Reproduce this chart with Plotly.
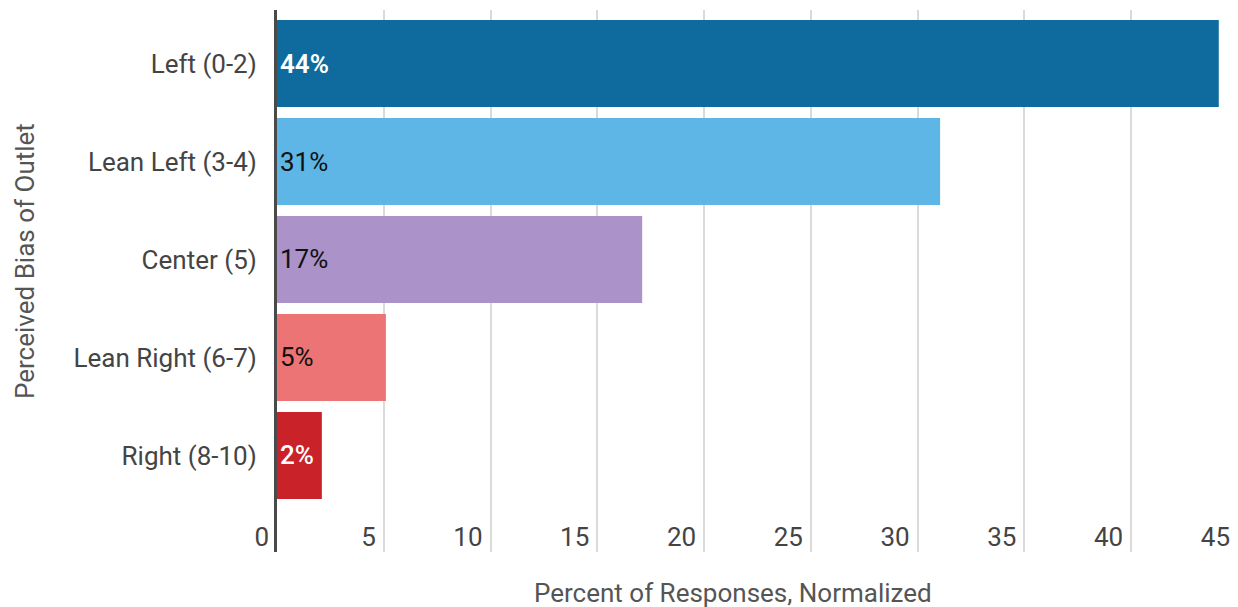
import plotly.graph_objects as go

categories = ["Left (0-2)", "Lean Left (3-4)", "Center (5)", "Lean Right (6-7)", "Right (8-10)"]
values = [44.1, 31.05, 17.1, 5.1, 2.1]
labels = ["44%", "31%", "17%", "5%", "2%"]
colors = ["#0F6B9E", "#5DB6E5", "#AB92C8", "#EC7474", "#C92228"]
text_colors = ["#FFFFFF", "#111111", "#111111", "#111111", "#FFFFFF"]
text_weights = [600, 400, 400, 400, 500]
x_ticks = [0, 5, 10, 15, 20, 25, 30, 35, 40, 45]

fig = go.Figure(go.Bar(
    x=values, y=categories, orientation="h",
    marker=dict(color=colors, line=dict(width=0)),
    text=labels, textposition="inside", insidetextanchor="start",
    textfont=dict(family="Roboto", size=26, color=text_colors, weight=text_weights),
    textangle=0,
))

fig.update_layout(
    width=1238, height=607,
    margin=dict(l=277, r=0, t=10, b=55),
    plot_bgcolor="white", paper_bgcolor="white",
    bargap=0.112,
    showlegend=False,
    font=dict(family="Roboto", color="#444444"),
    xaxis=dict(
        range=[0, 45], tickvals=x_ticks, ticktext=[str(v) for v in x_ticks],
        showgrid=True, gridcolor="#DADADA", gridwidth=2,
        zeroline=False, ticks="", ticklabelposition="outside left",
        ticklabelstandoff=-33, ticklabelshift=-8,
        tickfont=dict(family="Roboto", size=26, color="#444444"),
        fixedrange=True,
    ),
    yaxis=dict(
        categoryorder="array", categoryarray=categories,
        range=[4.985, -0.546],
        showline=True, linecolor="#4A4A4A", linewidth=3,
        ticks="", ticklabelstandoff=12,
        tickfont=dict(family="Roboto", size=26, color="#444444"),
    ),
    annotations=[
        dict(
            text="Percent of Responses, Normalized", xref="paper", yref="paper",
            x=(733 - 277) / (1238 - 277), y=-0.075, yanchor="middle", xanchor="center",
            showarrow=False, font=dict(family="Roboto", size=26, color="#555555"),
        ),
        dict(
            text="Perceived Bias of Outlet", xref="paper", yref="paper",
            x=(25 - 277) / (1238 - 277), y=(552 - 261) / (552 - 10),
            xanchor="center", yanchor="middle", textangle=-90,
            showarrow=False, font=dict(family="Roboto", size=26, color="#555555"),
        ),
    ],
)

fig.write_html("out.html")
